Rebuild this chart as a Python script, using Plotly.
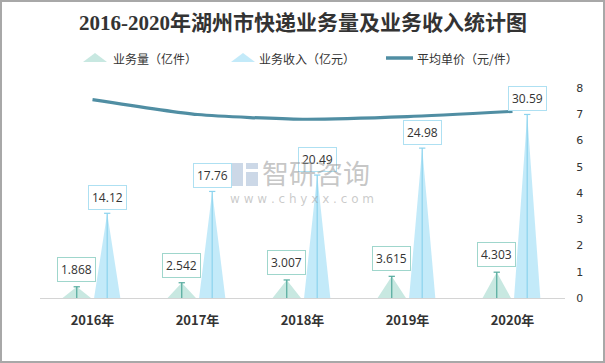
import plotly.graph_objects as go

# ---- data ----
years = ["2016年", "2017年", "2018年", "2019年", "2020年"]
volume = [1.868, 2.542, 3.007, 3.615, 4.303]      # 业务量（亿件）
revenue = [14.12, 17.76, 20.49, 24.98, 30.59]     # 业务收入（亿元）
price = [7.56, 6.99, 6.81, 6.91, 7.11]            # 平均单价（元/件）
price_ticks = [0, 1, 2, 3, 4, 5, 6, 7, 8]

# ---- style ----
VOL_FILL = "rgba(190,228,220,0.85)"
VOL_LINE = "#52a99c"
VOL_BORDER = "#9fd6cc"
REV_FILL = "rgba(188,232,248,0.9)"
REV_LINE = "#8cd3ee"
REV_BORDER = "#aee0f2"
PRICE_COLOR = "#508ea3"
TXT = "#333333"

W, H = 605, 363
L, R, T, B = 40, 40, 88, 65
PW, PH = W - L - R, H - T - B

def px(x):
    return (x - L) / PW

def py(y):
    return (H - B - y) / PH

VOL_OFF, REV_OFF = -0.15, 0.14
VOL_HW, REV_HW = 0.135, 0.125
CAP = 0.03

def triangles(vals, off, hw):
    xs, ys = [], []
    for i, v in enumerate(vals):
        c = i + off
        xs += [c - hw, c, c + hw, c - hw, None]
        ys += [0, v, 0, 0, None]
    return xs, ys

def stems(vals, off):
    xs, ys = [], []
    for i, v in enumerate(vals):
        c = i + off
        xs += [c, c, None, c - CAP, c + CAP, None]
        ys += [0, v, None, v, v, None]
    return xs, ys

fig = go.Figure()

vx, vy = triangles(volume, VOL_OFF, VOL_HW)
fig.add_trace(go.Scatter(x=vx, y=vy, fill="toself", fillcolor=VOL_FILL, mode="lines",
                         line=dict(width=0, color=VOL_FILL), name="业务量（亿件）",
                         hoverinfo="skip", showlegend=False))
rx, ry = triangles(revenue, REV_OFF, REV_HW)
fig.add_trace(go.Scatter(x=rx, y=ry, fill="toself", fillcolor=REV_FILL, mode="lines",
                         line=dict(width=0, color=REV_FILL), name="业务收入（亿元）",
                         hoverinfo="skip", showlegend=False))
sx, sy = stems(volume, VOL_OFF)
fig.add_trace(go.Scatter(x=sx, y=sy, mode="lines", line=dict(width=1.2, color=VOL_LINE),
                         hoverinfo="skip", showlegend=False))
sx, sy = stems(revenue, REV_OFF)
fig.add_trace(go.Scatter(x=sx, y=sy, mode="lines", line=dict(width=1.2, color=REV_LINE),
                         hoverinfo="skip", showlegend=False))
fig.add_trace(go.Scatter(x=list(range(len(years))), y=price, mode="lines", yaxis="y2",
                         line=dict(width=3.2, color=PRICE_COLOR, shape="spline", smoothing=0.6),
                         name="平均单价（元/件）", showlegend=False))

annotations = []
for i, v in enumerate(volume):
    annotations.append(dict(x=i + VOL_OFF, y=v, xref="x", yref="y", text=f"{v:.3f}",
                            showarrow=False, yanchor="bottom", yshift=5,
                            font=dict(size=12, color=TXT, family="Open Sans, sans-serif"),
                            bgcolor="white", bordercolor=VOL_BORDER, borderwidth=1, borderpad=3))
for i, v in enumerate(revenue):
    annotations.append(dict(x=i + REV_OFF, y=v, xref="x", yref="y", text=f"{v:.2f}",
                            showarrow=False, yanchor="bottom", yshift=3,
                            font=dict(size=12, color=TXT, family="Open Sans, sans-serif"),
                            bgcolor="rgba(255,255,255,0.9)", bordercolor=REV_BORDER,
                            borderwidth=1, borderpad=3))

# title
annotations.append(dict(x=0.5, y=py(23), xref="paper", yref="paper",
                        text="<b>2016-2020年湖州市快递业务量及业务收入统计图</b>",
                        showarrow=False, xanchor="center", yanchor="middle",
                        font=dict(size=21, color=TXT,
                                  family="Liberation Serif, Noto Sans CJK SC, serif")))

# legend (manual)
leg = [("业务量（亿件）", 111), ("业务收入（亿元）", 257), ("平均单价（元/件）", 415)]
for txt, x0 in leg:
    annotations.append(dict(x=px(x0), y=py(58), xref="paper", yref="paper", text=txt,
                            showarrow=False, xanchor="left", yanchor="middle",
                            font=dict(size=12, color=TXT, family="Noto Sans CJK SC")))

# watermark
annotations.append(dict(x=px(316), y=py(172), xref="paper", yref="paper", text="智研咨询",
                        showarrow=False, xanchor="center", yanchor="middle",
                        font=dict(size=27, color="rgba(150,150,150,0.55)",
                                  family="Noto Sans CJK SC")))
annotations.append(dict(x=px(302), y=py(199), xref="paper", yref="paper",
                        text="w w w . c h y x x . c o m",
                        showarrow=False, xanchor="center", yanchor="middle",
                        font=dict(size=12, color="rgba(150,150,150,0.5)",
                                  family="DejaVu Sans")))

shapes = []
def tri_path(x0, x1, ytop, ybot):
    xm = (x0 + x1) / 2
    return f"M {px(x0)},{py(ybot)} L {px(xm)},{py(ytop)} L {px(x1)},{py(ybot)} Z"

shapes.append(dict(type="path", xref="paper", yref="paper", path=tri_path(83, 107, 53, 62),
                   fillcolor=VOL_FILL, line=dict(width=0)))
shapes.append(dict(type="path", xref="paper", yref="paper", path=tri_path(231, 255, 53, 62),
                   fillcolor=REV_FILL, line=dict(width=0)))
shapes.append(dict(type="line", xref="paper", yref="paper", x0=px(386), x1=px(413),
                   y0=py(58), y1=py(58), line=dict(width=3.5, color=PRICE_COLOR)))
# watermark logo (simple blocks)
logo_c = "rgba(170,190,215,0.6)"
shapes.append(dict(type="rect", xref="paper", yref="paper", x0=px(232), x1=px(243),
                   y0=py(186), y1=py(163), fillcolor=logo_c, line=dict(width=0)))
shapes.append(dict(type="rect", xref="paper", yref="paper", x0=px(246), x1=px(258),
                   y0=py(186), y1=py(172), fillcolor=logo_c, line=dict(width=0)))
shapes.append(dict(type="rect", xref="paper", yref="paper", x0=px(246), x1=px(258),
                   y0=py(169), y1=py(163), fillcolor=logo_c, line=dict(width=0)))
# outer border
shapes.append(dict(type="rect", xref="paper", yref="paper", x0=px(1), x1=px(604),
                   y0=py(362), y1=py(1), line=dict(width=2, color="#a8a8a8"),
                   fillcolor="rgba(0,0,0,0)", layer="above"))

fig.update_layout(
    width=W, height=H,
    margin=dict(l=L, r=R, t=T, b=B),
    paper_bgcolor="white", plot_bgcolor="white",
    showlegend=False,
    xaxis=dict(range=[-0.5, len(years) - 0.5], tickvals=list(range(len(years))),
               ticktext=[f"<b>{y}</b>" for y in years],
               tickfont=dict(size=13, color=TXT, family="Noto Sans CJK SC"),
               showline=True, linecolor="#d4d4d4", linewidth=1,
               ticks="outside", ticklen=10, tickcolor="rgba(0,0,0,0)",
               showgrid=False, zeroline=False, fixedrange=True),
    yaxis=dict(range=[0, 35], visible=False, showgrid=False, zeroline=False),
    yaxis2=dict(range=[0, 8], tickvals=price_ticks, overlaying="y", side="right",
                showgrid=False, zeroline=False, showline=False,
                ticks="outside", ticklen=8, tickcolor="rgba(0,0,0,0)",
                tickfont=dict(size=11, color=TXT, family="DejaVu Sans")),
    annotations=annotations,
    shapes=shapes,
)

fig.write_html("out.html", config={"displayModeBar": False},
               post_script="document.body.style.margin='0px';")
